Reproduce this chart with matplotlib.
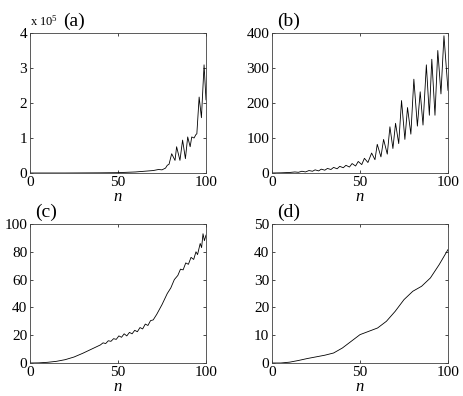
import matplotlib
matplotlib.use("Agg")
import matplotlib.pyplot as plt

plt.rcParams['font.family'] = 'serif'
plt.rcParams['font.serif'] = ['Liberation Serif', 'DejaVu Serif']
plt.rcParams['mathtext.fontset'] = 'custom'
plt.rcParams['mathtext.it'] = 'Liberation Serif:italic'
plt.rcParams['mathtext.rm'] = 'Liberation Serif'

# ---- data (vertices of each curve) ----
# (a) values in units of 1e5
n_a = [0, 20, 40, 50, 60, 65, 70, 73, 75, 77, 78, 79, 80.5, 82.4, 83.3, 85.2, 86.7,
       88.3, 89.6, 91.0, 91.9, 93.2, 94.3, 94.8, 96.1, 97.4, 98.9, 100]
y_a = [0, 0, 0.005, 0.01, 0.03, 0.05, 0.07, 0.1, 0.09, 0.14, 0.22, 0.25, 0.55, 0.36, 0.75,
       0.36, 0.94, 0.41, 1.03, 0.75, 1.03, 1.0, 1.1, 1.12, 2.17, 1.58, 3.09, 2.09]

n_b = [0, 5, 10, 13, 15, 17, 19, 21, 23, 24.5, 26.5, 28, 30, 31.5, 33.5, 35, 37, 38.5,
       40.5, 42, 44, 45.5, 47.5, 49, 51, 52.5, 54.5, 56.6, 58.5, 59.8, 61.9, 63.4, 65.5,
       67.0, 68.7, 70.2, 72.0, 73.6, 75.5, 77.0, 78.9, 80.6, 82.6, 84.2, 85.8, 87.7,
       89.4, 90.8, 92.6, 94.2, 96.0, 97.7, 100]
y_b = [0, 0.5, 1.5, 3, 2, 5, 3, 7, 5, 9, 6, 11, 8, 13, 10, 16, 12, 19,
       15, 22, 17, 27, 20, 33, 24, 42, 30, 57, 38, 82, 46, 96, 54,
       132, 70, 142, 84, 207, 96, 187, 111, 268, 134, 232, 137, 309,
       165, 325, 165, 350, 226, 392, 236]

n_c = [0, 5, 10, 15, 20, 25, 30, 35, 40, 41.5, 43, 44.5, 46, 47.5, 49, 50.5, 52, 53.5,
       55, 56.5, 58, 59.5, 61, 62.5, 64, 65.5, 67, 68.5, 70, 72, 75, 78, 80, 82, 84,
       85.5, 87, 88.5, 90, 91.5, 93, 94.3, 95.2, 96.7, 97.5, 98.3, 99.1, 100]
y_c = [0, 0.1, 0.5, 1.2, 2.4, 4.3, 7, 10, 13, 14.5, 14, 16, 15.6, 17.5, 17, 19.5, 18.5, 21,
       19.5, 22, 21, 23.5, 22.5, 25.5, 24.5, 28, 27, 30.5, 31, 35, 42, 50, 54, 60, 63,
       67.5, 67, 72, 71, 76, 74.5, 80, 78, 86, 83, 93, 88, 92]

n_d = [0, 5, 10, 15, 20, 25, 30, 35, 40, 45, 50, 55, 60, 65, 70, 75, 80, 85, 90, 95, 100]
y_d = [0, 0, 0.3, 0.9, 1.6, 2.2, 2.8, 3.6, 5.4, 7.8, 10.2, 11.4, 12.6, 15.0, 18.6,
       22.8, 25.8, 27.6, 30.6, 35.4, 40.8]

panels = [
    ("(a)", n_a, y_a, [0, 1, 2, 3, 4], 4),
    ("(b)", n_b, y_b, [0, 100, 200, 300, 400], 400),
    ("(c)", n_c, y_c, [0, 20, 40, 60, 80, 100], 100),
    ("(d)", n_d, y_d, [0, 10, 20, 30, 40, 50], 50),
]

W, H = 463, 396
fig = plt.figure(figsize=(W / 100, H / 100), dpi=100)

# axes boxes in pixels: left, top, right, bottom
boxes = [(30, 33, 206, 173), (272, 33, 448, 173),
         (30, 224, 206, 363), (272, 224, 448, 363)]

for (label, n, y, yt, ymax), (l, t, r, b) in zip(panels, boxes):
    ax = fig.add_axes([l / W, 1 - b / H, (r - l) / W, (b - t) / H])
    ax.plot(n, y, color='black', linewidth=0.6)
    ax.set_xlim(0, 100)
    ax.set_ylim(0, ymax)
    ax.set_xticks([0, 50, 100])
    ax.set_yticks(yt)
    ax.tick_params(direction='in', length=2.5, width=0.5, labelsize=11,
                   top=True, right=True, pad=2, colors='black')
    for s in ax.spines.values():
        s.set_linewidth(0.6)
        s.set_color('#404040')
    ax.set_xlabel(r'$n$', fontsize=12, labelpad=0)
    if label == "(a)":
        ax.text(0.0, 1.03, r'x 10$^{5}$', transform=ax.transAxes, fontsize=9,
                ha='left', va='bottom')
        ax.text(0.19, 1.02, label, transform=ax.transAxes, fontsize=14,
                ha='left', va='bottom')
    else:
        ax.text(0.03, 1.02, label, transform=ax.transAxes, fontsize=14,
                ha='left', va='bottom')

fig.savefig('out.png', dpi=100)
